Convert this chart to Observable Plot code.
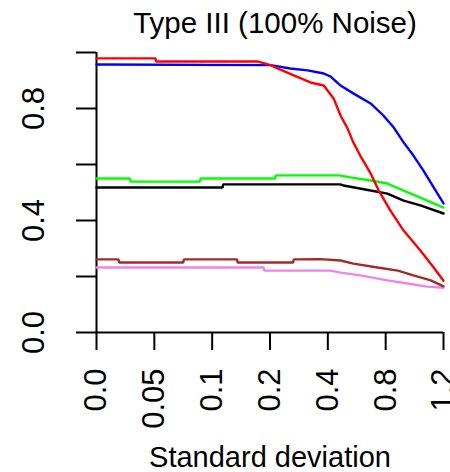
<!DOCTYPE html>
<html>
<head>
<meta charset="utf-8">
<script src="https://cdn.jsdelivr.net/npm/d3@7"></script>
<script src="https://cdn.jsdelivr.net/npm/@observablehq/plot@0.6"></script>
<style>
  html, body { margin: 0; padding: 0; background: #fff; }
</style>
</head>
<body>
<div id="chart"></div>
<script>
// ---- Data ----
const title = "Type III (100% Noise)";
const xTitle = "Standard deviation";
const xTickLabels = ["0.0", "0.05", "0.1", "0.2", "0.4", "0.8", "1.2"];
const xTickPos = [0, 1, 2, 3, 4, 5, 6];
const yTicks = [0, 0.2, 0.4, 0.6, 0.8, 1.0];
const yTickLabeled = [0, 0.4, 0.8];

// series: x = category position (0..6), y = value
const blueX  = [0, 3.01, 3.35, 3.65, 3.93, 4.05, 4.22, 4.44, 4.74, 4.96, 5.14, 5.31, 5.48, 5.65, 5.83, 6];
const blueY  = [0.957, 0.955, 0.943, 0.936, 0.925, 0.914, 0.882, 0.854, 0.818, 0.775, 0.732, 0.679, 0.632, 0.579, 0.518, 0.461];

const redX   = [0, 1.02, 1.03, 2.78, 3.01, 3.13, 3.41, 3.70, 3.93, 4.10, 4.22, 4.34, 4.44, 4.56, 4.74, 4.88, 5.08, 5.31, 5.60, 5.83, 6];
const redY   = [0.979, 0.979, 0.968, 0.968, 0.955, 0.943, 0.918, 0.893, 0.882, 0.836, 0.775, 0.729, 0.679, 0.632, 0.568, 0.507, 0.436, 0.364, 0.293, 0.232, 0.185];

const greenX = [0, 0.58, 0.59, 1.79, 1.80, 3.09, 3.10, 4.20, 4.39, 4.74, 5.03, 5.31, 5.60, 6];
const greenY = [0.55, 0.55, 0.539, 0.539, 0.55, 0.55, 0.561, 0.561, 0.554, 0.543, 0.532, 0.507, 0.482, 0.446];

const blackX = [0, 2.18, 2.19, 4.22, 4.27, 4.74, 5.03, 5.31, 5.60, 6];
const blackY = [0.518, 0.518, 0.529, 0.529, 0.525, 0.507, 0.496, 0.471, 0.454, 0.425];

const brownX = [0, 0.38, 0.39, 1.50, 1.51, 2.43, 2.44, 3.40, 3.41, 3.87, 4.22, 4.44, 4.86, 5.21, 5.48, 5.78, 6];
const brownY = [0.261, 0.261, 0.25, 0.25, 0.261, 0.261, 0.25, 0.25, 0.261, 0.262, 0.257, 0.246, 0.232, 0.221, 0.204, 0.186, 0.165];

const violetX = [0, 2.89, 2.90, 4.05, 4.22, 4.56, 5.03, 5.38, 5.72, 6];
const violetY = [0.232, 0.232, 0.221, 0.221, 0.214, 0.204, 0.186, 0.175, 0.164, 0.16];

const seriesList = [
  {name: "violet", color: "#EE82EE", xs: violetX, ys: violetY},
  {name: "brown",  color: "#A52A2A", xs: brownX,  ys: brownY},
  {name: "black",  color: "#000000", xs: blackX,  ys: blackY},
  {name: "green",  color: "#00FF00", xs: greenX,  ys: greenY},
  {name: "blue",   color: "#0000FF", xs: blueX,   ys: blueY},
  {name: "red",    color: "#FF0000", xs: redX,    ys: redY}
];

const lineMarks = seriesList.map(s =>
  Plot.line(s.xs.map((x, i) => ({x, y: s.ys[i]})), {
    x: "x", y: "y", stroke: s.color, strokeWidth: 2.4, strokeLinejoin: "miter"
  })
);

const chart = Plot.plot({
  width: 450,
  height: 472,
  marginLeft: 96,
  marginRight: 7,
  marginTop: 52,
  marginBottom: 140,
  style: {fontFamily: "'Liberation Sans', Arial, sans-serif", background: "#fff", color: "#000"},
  x: {domain: [0, 6], axis: null},
  y: {domain: [0, 1], axis: null},
  marks: [
    // axis lines
    Plot.ruleX([0], {x: d => d, y1: 0, y2: 1, stroke: "#000", strokeWidth: 2}),
    Plot.ruleY([0], {y: d => d, x1: 0, x2: 6, stroke: "#000", strokeWidth: 2}),
    // y ticks
    Plot.ruleY(yTicks, {y: d => d, x1: 0, x2: 0, insetLeft: -20, stroke: "#000", strokeWidth: 2}),
    // x ticks
    Plot.ruleX(xTickPos, {x: d => d, y1: 0, y2: 0, insetBottom: -18, stroke: "#000", strokeWidth: 2}),
    // y tick labels
    Plot.text(yTickLabeled, {
      y: d => d, text: d => d.toFixed(1), frameAnchor: "left", dx: -62,
      rotate: -90, textAnchor: "middle", lineAnchor: "middle", fontSize: 31, fill: "#000"
    }),
    // x tick labels
    Plot.text(xTickPos, {
      x: d => d, text: d => xTickLabels[d], frameAnchor: "bottom", dy: 36,
      rotate: -90, textAnchor: "end", lineAnchor: "middle", fontSize: 31, fill: "#000"
    }),
    // series
    ...lineMarks,
    // title
    Plot.text([title], {text: d => d, frameAnchor: "top", dx: 5, dy: -29, lineAnchor: "middle", fontSize: 29.5, fill: "#000"}),
    // x axis title
    Plot.text([xTitle], {text: d => d, frameAnchor: "bottom", dy: 125, lineAnchor: "middle", fontSize: 29, fill: "#000"})
  ]
});

document.getElementById("chart").appendChild(chart);
</script>
</body>
</html>
